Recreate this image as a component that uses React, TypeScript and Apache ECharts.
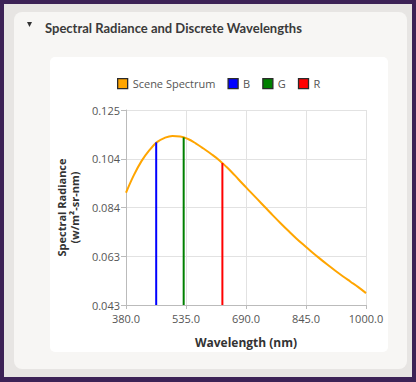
import React, { useEffect, useRef } from "react";
import * as echarts from "echarts";

const wavelengths = [380, 400, 420, 440, 460, 480, 500, 520, 540, 560, 580, 600, 620, 640, 660, 680, 700, 720, 740, 760, 780, 800, 820, 840, 860, 880, 900, 920, 940, 960, 980, 1000];
const radiance = [0.0902, 0.0975, 0.1035, 0.108, 0.1115, 0.1133, 0.1141, 0.1139, 0.1128, 0.111, 0.1088, 0.1065, 0.104, 0.101, 0.0977, 0.0942, 0.0908, 0.0874, 0.084, 0.0806, 0.0773, 0.0741, 0.071, 0.0681, 0.0653, 0.0626, 0.06, 0.0575, 0.0551, 0.0528, 0.0505, 0.048];

const bandNames = ["B", "G", "R"];
const bandWavelengths = [458, 529, 629];
const bandValues = [0.1114, 0.1135, 0.1027];
const bandColors = ["#0000ff", "#008000", "#ff0000"];

const yMin = 0.043;
const yMax = 0.125;
const yInterval = 0.0205;
const xMin = 380;
const xMax = 1000;
const xInterval = 155;

export default function App() {
  const ref = useRef<HTMLDivElement>(null);
  useEffect(() => {
    if (!ref.current) return;
    const chart = echarts.init(ref.current, null, { renderer: "svg" });
    const labelFont = "'Open Sans', sans-serif";
    const legendBorder = { borderColor: "#2a2a2a", borderWidth: 1.3 };
    const bandSeries = bandNames.map((n, i) => ({
      name: n,
      type: "line",
      data: [
        [bandWavelengths[i], yMin],
        [bandWavelengths[i], bandValues[i]],
      ],
      showSymbol: false,
      symbol: "none",
      color: bandColors[i],
      lineStyle: { color: bandColors[i], width: 2 },
      z: 3,
    }));
    chart.setOption({
      animation: false,
      title: {
        text: "Spectral Radiance and Discrete Wavelengths",
        left: 40,
        top: 16,
        textStyle: { fontFamily: "Lato, sans-serif", fontWeight: "bold", fontSize: 13, color: "#3a3a3a" },
      },
      graphic: [
        { type: "polygon", shape: { points: [[27, 22], [32, 22], [29.5, 27]] }, style: { fill: "#333" } },
      ],
      legend: {
        left: 112,
        top: 73,
        itemWidth: 10,
        itemHeight: 10,
        itemGap: 12,
        icon: "rect",
        itemStyle: legendBorder,
        textStyle: { fontFamily: labelFont, fontSize: 11, color: "#555" },
        data: ["Scene Spectrum", ...bandNames],
      },
      grid: { left: 126, right: 50, top: 110, bottom: 77 },
      xAxis: {
        type: "value",
        min: xMin,
        max: xMax,
        interval: xInterval,
        name: "Wavelength (nm)",
        nameLocation: "middle",
        nameGap: 31,
        nameTextStyle: { fontFamily: labelFont, fontWeight: "bold", fontSize: 12, color: "#333" },
        axisLine: { show: true, lineStyle: { color: "#bbb" } },
        axisTick: { show: true, length: 4, lineStyle: { color: "#bbb" } },
        axisLabel: { fontFamily: labelFont, fontSize: 11, color: "#555", margin: 8, formatter: (v: number) => v.toFixed(1) },
        splitLine: { show: true, lineStyle: { color: "#e2e2e2" } },
      },
      yAxis: {
        type: "value",
        min: yMin,
        max: yMax,
        interval: yInterval,
        name: "Spectral Radiance\n(w/m²-sr-nm)",
        nameLocation: "middle",
        nameGap: 45,
        nameTextStyle: { fontFamily: labelFont, fontWeight: "bold", fontSize: 11, color: "#333", lineHeight: 13 },
        axisLine: { show: true, lineStyle: { color: "#bbb" } },
        axisTick: { show: true, length: 5, lineStyle: { color: "#bbb" } },
        axisLabel: {
          fontFamily: labelFont,
          fontSize: 11,
          color: "#555",
          margin: 6,
          formatter: (v: number) => (Math.floor(v * 1000 + 1e-6) / 1000).toFixed(3),
        },
        splitLine: { show: true, lineStyle: { color: "#e2e2e2" } },
      },
      series: [
        {
          name: "Scene Spectrum",
          type: "line",
          data: wavelengths.map((w, i) => [w, radiance[i]]),
          smooth: 0.4,
          showSymbol: false,
          symbol: "none",
          color: "#ffa500",
          lineStyle: { color: "#ffa500", width: 2 },
          z: 2,
        },
        ...bandSeries,
      ],
    });
    return () => chart.dispose();
  }, []);

  return (
    <div style={{ position: "absolute", left: 0, top: 0, width: 416, height: 382, background: "#3c2256", overflow: "hidden" }}>
      <div style={{ position: "absolute", left: 4, top: 4, width: 408, height: 373, background: "#e7e5e3" }} />
      <div style={{ position: "absolute", left: 14, top: 12, width: 393, height: 357, background: "#f7f6f4", borderRadius: 8 }} />
      <div style={{ position: "absolute", left: 50, top: 57, width: 338, height: 295, background: "#ffffff", borderRadius: 5 }} />
      <div ref={ref} style={{ position: "absolute", left: 0, top: 0, width: 416, height: 382 }} />
    </div>
  );
}
